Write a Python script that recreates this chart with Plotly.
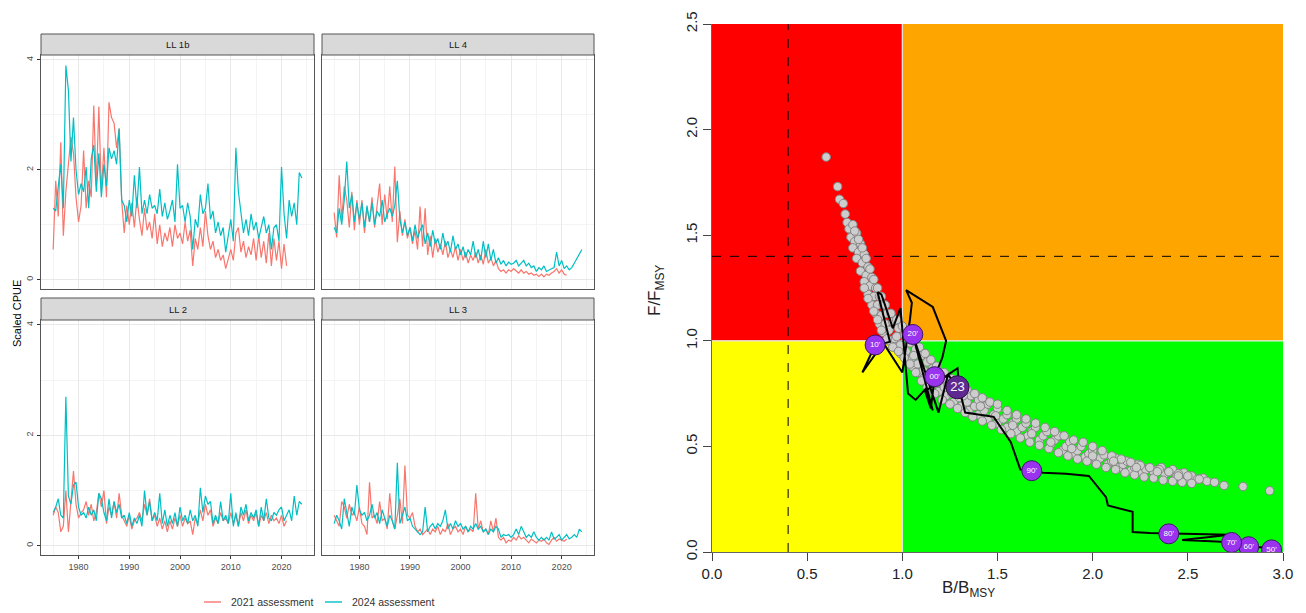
import plotly.graph_objects as go

W, H = 1306, 613


def px(x):
    return x / W


def py(y):
    return 1 - y / H


# ---------------- data: CPUE panels (half-yearly steps from 1975) ----------------
start_year = 1975.0
step = 0.5

ll1b_2021 = [0.55, 1.80, 1.15, 2.50, 0.80, 1.60, 2.10, 2.60, 2.30, 1.50,
             1.05, 1.35, 2.35, 1.30, 1.80, 1.50, 3.17, 1.70, 3.15, 1.60,
             2.40, 1.50, 3.23, 2.95, 2.85, 2.40, 2.75, 1.45, 0.85, 1.35,
             1.00, 1.40, 0.95, 1.50, 1.10, 0.80, 1.30, 0.90, 1.05, 0.75,
             1.20, 0.65, 1.00, 0.60, 0.85, 0.70, 0.95, 0.60, 1.00, 0.75,
             0.85, 0.65, 1.05, 0.70, 0.90, 0.25, 0.75, 0.55, 0.95, 0.60,
             1.25, 0.80, 0.55, 0.70, 0.40, 0.55, 0.35, 0.45, 0.20, 0.40,
             0.55, 0.35, 0.85, 0.95, 0.50, 0.70, 0.40, 0.60, 0.45, 0.75,
             0.35, 0.80, 0.40, 0.70, 0.30, 0.85, 0.25, 0.75, 0.35, 0.70,
             0.20, 0.65, 0.25]
ll1b_2024 = [1.30, 1.25, 1.70, 2.10, 1.30, 3.90, 3.45, 2.15, 2.95, 2.00,
             1.55, 1.75, 1.60, 2.05, 1.30, 2.20, 2.45, 1.60, 2.30, 1.50,
             2.10, 1.70, 2.40, 2.20, 2.35, 2.10, 2.75, 1.45, 1.35, 1.05,
             1.45, 1.15, 1.90, 1.30, 2.05, 1.20, 1.45, 1.20, 1.55, 1.30,
             1.35, 1.20, 1.65, 1.15, 1.40, 1.10, 1.25, 1.45, 1.05, 2.10,
             1.30, 1.35, 1.05, 1.40, 1.15, 0.55, 1.10, 0.95, 1.55, 1.20,
             1.30, 1.75, 1.10, 1.25, 0.85, 1.05, 0.80, 0.95, 0.50, 0.85,
             1.10, 0.70, 2.40, 1.60, 1.20, 0.85, 1.10, 0.80, 1.20, 0.90,
             1.05, 0.75, 0.95, 1.15, 0.85, 1.00, 0.55, 0.95, 1.00, 0.70,
             2.05, 1.20, 0.75, 1.45, 1.15, 1.40, 1.00, 1.95, 1.85]

ll4_2021 = [1.22, 0.77, 1.90, 1.10, 1.70, 1.45, 0.95, 1.60, 0.90, 1.45,
            1.00, 1.45, 0.85, 1.30, 1.05, 1.50, 0.95, 1.35, 1.75, 1.00,
            1.55, 1.10, 1.70, 1.05, 2.06, 0.68, 1.25, 0.80, 1.10, 0.75,
            0.95, 0.65, 0.90, 0.55, 1.33, 0.60, 1.30, 0.45, 0.80, 0.40,
            0.75, 0.50, 0.65, 0.45, 0.70, 0.40, 0.55, 0.40, 0.60, 0.35,
            0.55, 0.35, 0.50, 0.30, 0.45, 0.35, 0.50, 0.30, 0.45, 0.28,
            0.55, 0.30, 0.40, 0.25, 0.35, 0.20, 0.15, 0.18, 0.12, 0.18,
            0.15, 0.20, 0.15, 0.12, 0.18, 0.12, 0.15, 0.10, 0.12, 0.08,
            0.10, 0.06, 0.10, 0.05, 0.10, 0.08, 0.12, 0.15, 0.20, 0.12,
            0.18, 0.10, 0.08]
ll4_2024 = [0.95, 0.85, 1.30, 1.00, 1.45, 2.15, 1.30, 1.55, 1.05, 1.40,
            1.10, 1.40, 0.95, 1.35, 1.05, 1.40, 1.00, 1.25, 1.15, 1.45,
            1.05, 1.20, 1.30, 1.15, 1.35, 1.80, 1.10, 0.85, 1.05, 0.80,
            0.95, 0.70, 1.00, 0.75, 0.90, 1.00, 0.65, 0.85, 0.60, 0.90,
            0.65, 0.75, 0.55, 0.85, 0.60, 0.70, 0.50, 0.80, 0.55, 0.65,
            0.45, 0.60, 0.40, 0.55, 0.45, 0.70, 0.40, 0.55, 0.35, 0.70,
            0.40, 0.65, 0.35, 0.55, 0.30, 0.40, 0.28, 0.35, 0.25, 0.32,
            0.28, 0.30, 0.35, 0.25, 0.30, 0.35, 0.25, 0.30, 0.22, 0.25,
            0.15, 0.22, 0.18, 0.25, 0.15, 0.18, 0.20, 0.22, 0.50, 0.25,
            0.35, 0.20, 0.25, 0.18, 0.22, 0.30, 0.38, 0.45, 0.55]

ll2_2021 = [0.55, 0.70, 0.60, 0.25, 0.35, 1.00, 0.25, 0.85, 1.35, 0.75,
            0.50, 0.60, 0.65, 0.80, 0.55, 0.75, 0.45, 0.60, 0.95, 0.70,
            1.00, 0.40, 0.70, 0.55, 0.80, 0.50, 0.95, 0.55, 0.45, 0.35,
            0.55, 0.30, 0.45, 0.50, 0.60, 0.45, 0.75, 0.55, 0.85, 0.45,
            0.55, 0.35, 0.50, 0.30, 0.45, 0.25, 0.45, 0.30, 0.50, 0.35,
            0.55, 0.35, 0.50, 0.40, 0.45, 0.20, 0.50, 0.40, 0.65, 0.45,
            0.75, 0.55, 0.65, 0.35, 0.50, 0.40, 0.60, 0.45, 0.50, 0.40,
            0.60, 0.40, 0.55, 0.35, 0.60, 0.45, 0.65, 0.40, 0.55, 0.45,
            0.60, 0.35, 0.55, 0.45, 0.60, 0.40, 0.55, 0.45, 0.50, 0.40,
            0.55, 0.35, 0.45]
ll2_2024 = [0.60, 0.70, 0.85, 0.55, 0.50, 2.70, 0.90, 0.75, 1.10, 1.15,
            0.70, 0.55, 0.60, 0.50, 0.70, 0.55, 0.65, 0.45, 0.95, 0.85,
            0.60, 0.45, 0.85, 0.50, 0.80, 0.60, 0.75, 0.50, 0.55, 0.40,
            0.60, 0.35, 0.50, 0.40, 0.55, 0.35, 1.00, 0.55, 0.80, 0.45,
            0.60, 0.45, 0.95, 0.40, 0.65, 0.35, 0.55, 0.40, 0.60, 0.35,
            0.70, 0.45, 0.55, 0.40, 0.65, 0.45, 0.55, 0.35, 1.05, 0.60,
            0.90, 0.75, 0.80, 0.40, 0.55, 0.40, 0.80, 0.45, 0.55, 0.40,
            0.95, 0.35, 0.60, 0.35, 0.70, 0.55, 0.75, 0.45, 0.60, 0.50,
            0.65, 0.35, 0.70, 0.45, 0.85, 0.50, 0.45, 0.60, 0.55, 0.65,
            0.70, 0.45, 0.55, 0.65, 0.45, 0.90, 0.55, 0.80, 0.75]

ll3_2021 = [0.55, 0.45, 0.35, 0.80, 0.70, 0.50, 0.75, 0.55, 0.60, 0.45,
            0.70, 0.40, 0.35, 0.20, 1.15, 0.50, 0.55, 0.40, 0.80, 0.45,
            0.50, 0.30, 0.95, 0.45, 0.30, 0.55, 0.85, 0.40, 1.45, 0.55,
            0.50, 0.60, 0.35, 0.25, 0.30, 0.20, 0.25, 0.30, 0.20, 0.30,
            0.25, 0.35, 0.20, 0.30, 0.25, 0.40, 0.20, 0.30, 0.35, 0.25,
            0.30, 0.20, 0.35, 0.25, 0.30, 0.25, 0.95, 0.30, 0.45, 0.25,
            0.30, 0.20, 0.45, 0.25, 0.50, 0.15, 0.10, 0.15, 0.05, 0.10,
            0.08, 0.15, 0.10, 0.18, 0.12, 0.15, 0.10, 0.05, 0.12, 0.08,
            0.05, 0.10, 0.08, 0.12, 0.05, 0.02, 0.10, 0.15, 0.08, 0.12,
            0.10, 0.08, 0.12]
ll3_2024 = [0.40, 0.55, 0.45, 0.30, 0.85, 0.60, 0.35, 0.70, 0.55, 1.10,
            0.65, 0.55, 0.60, 0.45, 0.55, 0.75, 0.50, 0.60, 0.40, 0.65,
            0.50, 0.35, 0.55, 0.45, 0.30, 1.50, 0.40, 0.55, 0.70, 0.45,
            0.50, 0.35, 0.30, 0.25, 0.20, 0.25, 0.70, 0.25, 0.35, 0.40,
            0.30, 0.40, 0.35, 0.45, 0.65, 0.30, 0.40, 0.30, 0.45, 0.35,
            0.40, 0.30, 0.35, 0.25, 0.35, 0.30, 0.40, 0.30, 0.35, 0.25,
            0.30, 0.20, 0.30, 0.25, 0.35, 0.30, 0.15, 0.20, 0.18, 0.20,
            0.15, 0.20, 0.30, 0.20, 0.35, 0.25, 0.15, 0.20, 0.15, 0.25,
            0.15, 0.10, 0.15, 0.10, 0.15, 0.10, 0.25, 0.12, 0.15, 0.20,
            0.10, 0.15, 0.20, 0.12, 0.15, 0.20, 0.15, 0.30, 0.25]

panel_names = ["LL 1b", "LL 4", "LL 2", "LL 3"]
series_2021 = [ll1b_2021, ll4_2021, ll2_2021, ll3_2021]
series_2024 = [ll1b_2024, ll4_2024, ll2_2024, ll3_2024]
legend_names = ["2021 assessment", "2024 assessment"]
year_ticks = [1980, 1990, 2000, 2010, 2020]
cpue_ticks = [0, 2, 4]

# ---------------- data: Kobe plot ----------------
# projection cloud, read as rows along the band (centre, upper edge, lower edge, mid-lower)
cloud_B = [0.60, 0.66, 0.67, 0.69, 0.70, 0.71, 0.72, 0.74, 0.73, 0.75, 0.76, 0.74,
           0.77, 0.78, 0.76, 0.79, 0.80, 0.78, 0.81, 0.82, 0.80, 0.83, 0.84, 0.82,
           0.85, 0.86, 0.84, 0.87, 0.88, 0.86, 0.89, 0.90, 0.88, 0.91, 0.92, 0.90,
           0.93, 0.95, 0.93, 0.96, 0.98, 0.96, 0.99, 1.01, 0.99, 1.02, 1.04, 1.02,
           1.05, 1.07, 1.05, 1.08, 1.10, 1.08, 1.11, 1.13, 1.11, 1.14, 1.16, 1.15,
           1.18, 1.20, 1.19, 1.22, 1.24, 1.23, 1.26, 1.28, 1.27, 1.30, 1.32, 1.31,
           1.34, 1.36, 1.35, 1.38, 1.40, 1.40, 1.43, 1.45, 1.45, 1.48, 1.50, 1.50,
           1.53, 1.55, 1.55, 1.58, 1.60, 1.60, 1.63, 1.65, 1.66, 1.68, 1.70, 1.72,
           1.74, 1.76, 1.78, 1.80, 1.82, 1.84, 1.86, 1.88, 1.90, 1.92, 1.94, 1.96,
           1.98, 2.00, 2.02, 2.04, 2.06, 2.08, 2.10, 2.12, 2.14, 2.16, 2.18, 2.20,
           2.22, 2.24, 2.26, 2.28, 2.30, 2.32, 2.34, 2.36, 2.38, 2.40, 2.42, 2.44,
           2.46, 2.48, 2.50, 2.52, 2.55, 2.58, 2.60, 2.64, 2.69, 2.79, 2.93,
           0.75, 0.77, 0.79, 0.81, 0.83, 0.85, 0.87, 0.89, 0.91, 0.94, 0.97, 1.00,
           1.03, 1.06, 1.09, 1.12, 1.15, 1.18, 1.22, 1.26, 1.30, 1.34, 1.38, 1.42,
           1.46, 1.50, 1.55, 1.60, 1.65, 1.70, 1.75, 1.80, 1.85, 1.90, 1.95, 2.00,
           2.05, 2.10, 2.15, 2.20, 2.25, 2.30, 2.35, 2.40, 2.45, 2.50,
           0.80, 0.82, 0.85, 0.87, 0.89, 0.92, 0.95, 0.98, 1.01, 1.04, 1.07, 1.10,
           1.13, 1.17, 1.21, 1.25, 1.29, 1.33, 1.37, 1.42, 1.47, 1.52, 1.57, 1.62,
           1.67, 1.72, 1.77, 1.82, 1.87, 1.92, 1.97, 2.02, 2.07, 2.12, 2.17, 2.22,
           2.27, 2.32, 2.37, 2.42, 2.47, 2.52,
           0.97, 1.06, 1.16, 1.24, 1.32, 1.41, 1.49, 1.58, 1.68, 1.78, 1.89, 2.00,
           2.11, 2.23, 2.34, 2.45, 2.56]
cloud_F = [1.87, 1.73, 1.67, 1.65, 1.60, 1.56, 1.53, 1.55, 1.49, 1.47, 1.51, 1.44,
           1.42, 1.46, 1.39, 1.37, 1.41, 1.33, 1.31, 1.35, 1.28, 1.26, 1.30, 1.22,
           1.21, 1.25, 1.17, 1.17, 1.21, 1.13, 1.12, 1.17, 1.08, 1.08, 1.13, 1.04,
           1.05, 1.09, 1.00, 1.01, 1.06, 0.97, 0.98, 1.03, 0.94, 0.95, 0.99, 0.91,
           0.92, 0.96, 0.88, 0.89, 0.93, 0.85, 0.86, 0.90, 0.82, 0.83, 0.87, 0.79,
           0.80, 0.84, 0.76, 0.78, 0.81, 0.74, 0.75, 0.79, 0.71, 0.73, 0.76, 0.69,
           0.71, 0.74, 0.67, 0.69, 0.72, 0.65, 0.67, 0.70, 0.63, 0.65, 0.68, 0.61,
           0.63, 0.65, 0.59, 0.61, 0.63, 0.57, 0.59, 0.61, 0.55, 0.57, 0.59, 0.53,
           0.55, 0.57, 0.51, 0.53, 0.55, 0.48, 0.50, 0.52, 0.465, 0.48, 0.50, 0.45,
           0.465, 0.48, 0.43, 0.445, 0.46, 0.415, 0.43, 0.445, 0.40, 0.415, 0.43, 0.385,
           0.40, 0.415, 0.375, 0.39, 0.40, 0.38, 0.39, 0.40, 0.37, 0.38, 0.39, 0.36,
           0.37, 0.375, 0.35, 0.36, 0.345, 0.35, 0.335, 0.33, 0.315, 0.31, 0.29,
           1.52, 1.48, 1.44, 1.39, 1.34, 1.29, 1.25, 1.21, 1.17, 1.13, 1.10, 1.07,
           1.04, 1.00, 0.97, 0.94, 0.91, 0.88, 0.85, 0.82, 0.80, 0.77, 0.75, 0.73,
           0.71, 0.70, 0.67, 0.65, 0.63, 0.61, 0.59, 0.57, 0.55, 0.53, 0.52, 0.50,
           0.48, 0.455, 0.44, 0.425, 0.41, 0.40, 0.39, 0.38, 0.37, 0.36,
           1.25, 1.20, 1.14, 1.10, 1.05, 1.01, 0.97, 0.95, 0.92, 0.89, 0.85, 0.81,
           0.78, 0.75, 0.72, 0.70, 0.68, 0.66, 0.64, 0.62, 0.60, 0.58, 0.56, 0.54,
           0.52, 0.505, 0.49, 0.47, 0.455, 0.44, 0.43, 0.415, 0.40, 0.39, 0.375, 0.365,
           0.355, 0.35, 0.34, 0.335, 0.33, 0.325,
           1.02, 0.93, 0.85, 0.79, 0.74, 0.69, 0.645, 0.60, 0.56, 0.52, 0.49, 0.455,
           0.43, 0.40, 0.38, 0.36, 0.345]

traj_year = list(range(1950, 2024))
traj_B = [2.94, 2.93, 2.91, 2.90, 2.88, 2.87, 2.86, 2.85, 2.84, 2.83,
          2.82, 2.81, 2.80, 2.79, 2.78, 2.77, 2.76, 2.75, 2.745, 2.74,
          2.73, 2.65, 2.56, 2.47, 2.58, 2.70, 2.72, 2.66, 2.58, 2.49,
          2.40, 2.30, 2.21, 2.21, 2.08, 2.07, 1.98, 1.86, 1.74, 1.71,
          1.68, 1.62, 1.57, 1.48, 1.33, 1.30, 1.29, 1.24, 1.12, 1.15,
          1.17, 1.21, 1.23, 1.16, 1.02, 1.05, 1.04, 1.00, 0.90, 0.79,
          0.857, 0.935, 0.87, 0.89, 0.95, 0.99, 1.03, 1.07, 1.12, 1.16,
          1.055, 1.19, 1.24, 1.29]
traj_F = [0.010, 0.018, 0.020, 0.021, 0.022, 0.023, 0.024, 0.025, 0.026, 0.026,
          0.025, 0.029, 0.031, 0.033, 0.035, 0.037, 0.039, 0.041, 0.043, 0.044,
          0.045, 0.050, 0.053, 0.057, 0.068, 0.078, 0.082, 0.083, 0.084, 0.085,
          0.086, 0.090, 0.095, 0.190, 0.220, 0.260, 0.360, 0.370, 0.375, 0.380,
          0.385, 0.390, 0.520, 0.640, 0.660, 0.770, 0.870, 0.840, 0.760, 0.680,
          0.830, 0.920, 1.000, 1.160, 1.240, 1.180, 1.100, 0.850, 0.990, 0.850,
          0.980, 0.995, 1.230, 1.220, 1.060, 1.155, 0.750, 0.720, 0.770, 0.670,
          1.030, 0.660, 0.840, 0.780]
decade_years = [1950, 1960, 1970, 1980, 1990, 2000, 2010, 2020]
decade_labels = ["50'", "60'", "70'", "80'", "90'", "00'", "10'", "20'"]
final_label = "23"
bx_ticks = [0.0, 0.5, 1.0, 1.5, 2.0, 2.5, 3.0]
fy_ticks = [0.0, 0.5, 1.0, 1.5, 2.0, 2.5]

# ---------------- styling ----------------
RED = "#F8766D"
CYAN = "#00BFC4"
FONT = "Liberation Sans, Arial, sans-serif"

fig = go.Figure()

panels = [
    dict(x0=41, x1=314, y0=55, y1=289, strip=34, xlab=False, ylab=True),
    dict(x0=322, x1=594, y0=55, y1=289, strip=34, xlab=False, ylab=False),
    dict(x0=41, x1=314, y0=320, y1=555, strip=298, xlab=True, ylab=True),
    dict(x0=322, x1=594, y0=320, y1=555, strip=298, xlab=True, ylab=False),
]

shapes = []
annotations = []

for i, p in enumerate(panels):
    ax = "" if i == 0 else str(i + 1)
    xa, ya = "x" + ax, "y" + ax
    for vals, col in ((series_2021[i], RED), (series_2024[i], CYAN)):
        years = [start_year + step * k for k in range(len(vals))]
        fig.add_trace(go.Scatter(x=years, y=vals, mode="lines", xaxis=xa, yaxis=ya,
                                 line=dict(color=col, width=1.2), showlegend=False,
                                 hoverinfo="skip"))
    fig.layout["xaxis" + ax] = dict(
        domain=[px(p["x0"]), px(p["x1"])], anchor=ya, range=[1972.6, 2026.4],
        tickvals=year_ticks, showticklabels=p["xlab"], ticks="outside" if p["xlab"] else "",
        ticklen=3, tickcolor="#333333", tickfont=dict(size=9, color="#4D4D4D", family=FONT),
        showgrid=True, gridcolor="#E8E8E8", gridwidth=1,
        minor=dict(tickvals=[1975, 1985, 1995, 2005, 2015, 2025], showgrid=True,
                   gridcolor="#F4F4F4", gridwidth=0.6),
        showline=True, mirror=True, linecolor="#555555", linewidth=1, zeroline=False)
    fig.layout["yaxis" + ax] = dict(
        domain=[py(p["y1"]), py(p["y0"])], anchor=xa, range=[-0.17, 4.09],
        tickvals=cpue_ticks, showticklabels=p["ylab"], ticks="outside" if p["ylab"] else "",
        ticklen=3, tickcolor="#333333", tickangle=-90,
        tickfont=dict(size=9, color="#4D4D4D", family=FONT),
        showgrid=True, gridcolor="#E8E8E8", gridwidth=1,
        minor=dict(tickvals=[1, 3], showgrid=True, gridcolor="#F4F4F4", gridwidth=0.6),
        showline=True, mirror=True, linecolor="#555555", linewidth=1, zeroline=False)
    shapes.append(dict(type="rect", xref="paper", yref="paper",
                       x0=px(p["x0"]), x1=px(p["x1"]), y0=py(p["y0"]), y1=py(p["strip"]),
                       fillcolor="#D9D9D9", line=dict(color="#555555", width=1)))
    annotations.append(dict(xref="paper", yref="paper", x=px((p["x0"] + p["x1"]) / 2),
                            y=py((p["strip"] + p["y0"]) / 2), text=panel_names[i],
                            showarrow=False, font=dict(size=9.5, color="#1A1A1A", family=FONT),
                            xanchor="center", yanchor="middle"))

# y title
annotations.append(dict(xref="paper", yref="paper", x=px(9), y=py(314), text="Scaled CPUE",
                        textangle=-90, showarrow=False, xanchor="left",
                        font=dict(size=11, color="#000000", family=FONT)))
# legend (manual keys)
for (lx0, lx1, tx), name, col in zip(((204, 221, 229), (325, 342, 350)), legend_names, (RED, CYAN)):
    shapes.append(dict(type="line", xref="paper", yref="paper", x0=px(lx0), x1=px(lx1),
                       y0=py(602), y1=py(602), line=dict(color=col, width=1.4)))
    annotations.append(dict(xref="paper", yref="paper", x=px(tx), y=py(602), text=name,
                            xanchor="left", yanchor="middle", showarrow=False,
                            font=dict(size=10.5, color="#333333", family=FONT)))

# ---------------- Kobe plot ----------------
K = "5"
zones = [(0, 1, 1, 2.5, "#FF0000"), (1, 3, 1, 2.5, "#FFA500"),
         (0, 1, 0, 1, "#FFFF00"), (1, 3, 0, 1, "#00FF00")]
for x0, x1, y0, y1, c in zones:
    shapes.append(dict(type="rect", xref="x5", yref="y5", x0=x0, x1=x1, y0=y0, y1=y1,
                       fillcolor=c, line=dict(width=0), layer="below"))
shapes.append(dict(type="line", xref="x5", yref="y5", x0=1, x1=1, y0=0, y1=2.5,
                   line=dict(color="#E8E8E8", width=1.2), layer="below"))
shapes.append(dict(type="line", xref="x5", yref="y5", x0=0, x1=3, y0=1, y1=1,
                   line=dict(color="#E8E8E8", width=1.2), layer="below"))
shapes.append(dict(type="line", xref="x5", yref="y5", x0=0.4, x1=0.4, y0=0, y1=2.5,
                   line=dict(color="#000000", width=1, dash="dash"), layer="below"))
shapes.append(dict(type="line", xref="x5", yref="y5", x0=0, x1=3, y0=1.4, y1=1.4,
                   line=dict(color="#000000", width=1, dash="dash"), layer="below"))

fig.add_trace(go.Scatter(x=cloud_B, y=cloud_F, mode="markers", xaxis="x5", yaxis="y5",
                         marker=dict(size=8.5, color="#CDCDCD", line=dict(color="#858585", width=1)),
                         showlegend=False, hoverinfo="skip"))
fig.add_trace(go.Scatter(x=traj_B, y=traj_F, mode="lines", xaxis="x5", yaxis="y5",
                         line=dict(color="#000000", width=2), showlegend=False, hoverinfo="skip"))
dec_idx = [traj_year.index(y) for y in decade_years]
fig.add_trace(go.Scatter(x=[traj_B[k] for k in dec_idx], y=[traj_F[k] for k in dec_idx],
                         mode="markers+text", text=decade_labels, textposition="middle center",
                         textfont=dict(size=8, color="#FFFFFF", family=FONT),
                         xaxis="x5", yaxis="y5",
                         marker=dict(size=20, color="#9933EE", line=dict(color="#3D1466", width=1)),
                         showlegend=False, hoverinfo="skip"))
fig.add_trace(go.Scatter(x=[traj_B[-1]], y=[traj_F[-1]], mode="markers+text", text=[final_label],
                         textposition="middle center",
                         textfont=dict(size=13, color="#FFFFFF", family=FONT),
                         xaxis="x5", yaxis="y5",
                         marker=dict(size=23, color="#5E2A91", line=dict(color="#2E1048", width=1)),
                         showlegend=False, hoverinfo="skip"))

fig.layout["xaxis" + K] = dict(
    domain=[px(712), px(1283)], anchor="y5", range=[0, 3], tickvals=bx_ticks,
    ticktext=[f"{v:.1f}" for v in bx_ticks], ticks="outside", ticklen=8, tickcolor="#444444",
    tickfont=dict(size=15, color="#222222", family=FONT), showgrid=False, zeroline=False,
    showline=True, linecolor="#666666", linewidth=1)
fig.layout["yaxis" + K] = dict(
    domain=[py(552), py(24)], anchor="x5", range=[0, 2.5], tickvals=fy_ticks,
    ticktext=[f"{v:.1f}" for v in fy_ticks], ticks="outside", ticklen=8, tickcolor="#444444",
    tickangle=-90, tickfont=dict(size=15, color="#222222", family=FONT), showgrid=False,
    zeroline=False, showline=True, linecolor="#666666", linewidth=1)

annotations.append(dict(xref="paper", yref="paper", x=px(656), y=py(290),
                        text="F/F<sub>MSY</sub>", textangle=-90, showarrow=False,
                        font=dict(size=17, color="#222222", family=FONT)))
annotations.append(dict(xref="paper", yref="paper", x=px(997), y=py(602),
                        text="B/B<sub>MSY</sub>", showarrow=False,
                        font=dict(size=17, color="#222222", family=FONT)))

fig.update_layout(width=W, height=H, margin=dict(l=0, r=0, t=0, b=0, autoexpand=False),
                  paper_bgcolor="#FFFFFF", plot_bgcolor="#FFFFFF",
                  shapes=shapes, annotations=annotations, showlegend=False,
                  font=dict(family=FONT))

fig.write_html("out.html", config={"displayModeBar": False},
               post_script="document.body.style.margin='0';document.body.style.overflow='hidden';")
